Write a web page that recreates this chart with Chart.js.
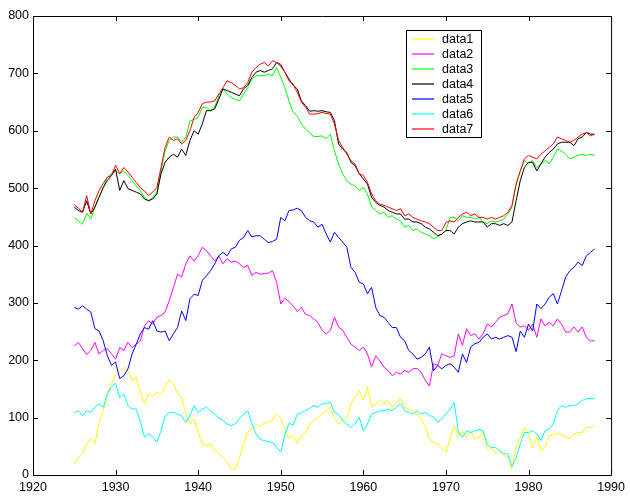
<!DOCTYPE html>
<html>
<head>
<meta charset="utf-8">
<title>data1 - data7</title>
<script src="https://cdn.jsdelivr.net/npm/chart.js@4/dist/chart.umd.min.js"></script>
<style>
  html, body { margin: 0; padding: 0; background: #fff; }
  #chart { display: block; }
</style>
</head>
<body>
<canvas id="chart" width="630" height="496"></canvas>
<script>
// half-year samples, 1925 .. 1988
const years = [];
for (let i = 0; i <= 126; i++) years.push(1925 + i / 2);

const xTicks = [1920, 1930, 1940, 1950, 1960, 1970, 1980, 1990];
const yTicks = [0, 100, 200, 300, 400, 500, 600, 700, 800];

const seriesNames = ["data1", "data2", "data3", "data4", "data5", "data6", "data7"];
const seriesColors = ["#ffff00", "#ff00ff", "#00ff00", "#000000", "#0000ff", "#00ffff", "#ff0000"];

const data1 = [
  19, 31, 37, 54, 63, 55, 92, 112, 141, 159,
  176, 179, 188, 182, 165, 171, 144, 124, 141, 138,
  144, 141, 153, 167, 159, 141, 135, 106, 89, 98,
  75, 54, 51, 54, 43, 37, 31, 22, 10, 10,
  30, 55, 75, 80, 88, 86, 90, 92, 95, 106,
  98, 80, 64, 70, 55, 68, 72, 90, 95, 101,
  106, 112, 118, 98, 89, 95, 101, 124, 136, 147,
  130, 153, 118, 124, 130, 124, 130, 118, 127, 133,
  118, 115, 112, 106, 98, 83, 63, 57, 54, 46,
  40, 63, 86, 68, 77, 66, 77, 63, 66, 74,
  46, 48, 37, 43, 34, 31, 11, 50, 66, 83,
  72, 48, 66, 43, 48, 69, 69, 74, 69, 66,
  63, 72, 74, 74, 83, 83, 86
];
const data2 = [
  225, 231, 220, 210, 217, 231, 211, 217, 220, 211,
  202, 222, 217, 231, 222, 228, 234, 260, 269, 263,
  275, 278, 284, 304, 327, 350, 345, 368, 382, 373,
  382, 397, 391, 382, 373, 382, 368, 377, 371, 373,
  368, 362, 365, 348, 353, 350, 351, 352, 356, 336,
  298, 308, 302, 295, 285, 292, 280, 278, 272, 266,
  252, 246, 252, 275, 258, 252, 240, 228, 223, 217,
  223, 211, 188, 208, 199, 188, 182, 173, 179, 176,
  182, 179, 185, 186, 179, 165, 155, 194, 191, 211,
  208, 205, 208, 246, 226, 255, 243, 246, 237, 246,
  263, 258, 266, 275, 278, 281, 298, 265, 258, 260,
  252, 263, 240, 272, 260, 266, 260, 272, 263, 249,
  249, 258, 249, 258, 240, 234, 234
];
const data3 = [
  449, 443, 437, 456, 446, 467, 484, 501, 519, 525,
  530, 525, 530, 522, 513, 504, 496, 484, 478, 484,
  493, 530, 565, 583, 589, 589, 580, 589, 617, 620,
  623, 641, 641, 635, 641, 661, 673, 664, 658, 655,
  652, 664, 675, 690, 696, 696, 696, 699, 696, 710,
  693, 675, 652, 632, 626, 612, 603, 596, 590, 590,
  591, 586, 594, 565, 542, 525, 513, 507, 504, 496,
  501, 490, 467, 461, 455, 458, 449, 452, 446, 443,
  432, 435, 426, 429, 423, 420, 417, 412, 415, 420,
  426, 449, 449, 443, 452, 449, 449, 446, 449, 441,
  438, 443, 441, 443, 446, 455, 467, 507, 530, 548,
  542, 548, 536, 542, 548, 542, 554, 568, 565, 559,
  551, 554, 557, 559, 557, 559, 557
];
const data4 = [
  467, 461, 458, 478, 455, 467, 484, 501, 513, 522,
  533, 496, 513, 499, 496, 493, 490, 481, 478, 481,
  490, 525, 545, 554, 559, 554, 568, 557, 583, 600,
  594, 612, 635, 635, 638, 655, 673, 670, 667, 664,
  661, 673, 679, 693, 702, 705, 702, 705, 708, 719,
  713, 702, 690, 679, 673, 652, 644, 634, 635, 634,
  635, 633, 632, 618, 577, 568, 562, 545, 539, 525,
  516, 507, 484, 475, 470, 467, 461, 458, 455, 455,
  446, 446, 441, 441, 438, 432, 429, 423, 417, 420,
  426, 426, 420, 432, 438, 441, 443, 441, 441, 441,
  432, 438, 438, 435, 438, 435, 441, 478, 513, 536,
  545, 545, 530, 542, 554, 562, 568, 577, 580, 580,
  580, 574, 586, 589, 597, 594, 594
];
const data5 = [
  292, 289, 295, 289, 284, 255, 251, 234, 208, 191,
  197, 168, 173, 185, 211, 228, 246, 257, 254, 269,
  251, 249, 251, 234, 246, 257, 286, 269, 307, 315,
  313, 339, 347, 356, 368, 382, 388, 382, 394, 397,
  409, 414, 426, 415, 417, 417, 411, 405, 407, 411,
  449, 443, 461, 462, 465, 461, 449, 443, 441, 432,
  437, 420, 406, 423, 414, 406, 397, 362, 353, 336,
  333, 316, 327, 292, 278, 275, 266, 257, 257, 240,
  234, 217, 211, 202, 205, 211, 223, 182, 191, 185,
  191, 194, 188, 179, 211, 196, 223, 229, 231, 240,
  246, 237, 240, 237, 240, 243, 240, 215, 251, 240,
  263, 251, 298, 290, 298, 310, 316, 298, 321, 345,
  356, 362, 371, 365, 382, 388, 394
];
const data6 = [
  109, 112, 103, 112, 109, 118, 124, 118, 141, 153,
  160, 135, 141, 121, 115, 115, 92, 66, 72, 66,
  57, 77, 103, 109, 109, 106, 103, 92, 103, 121,
  109, 115, 118, 112, 106, 100, 95, 89, 86, 89,
  98, 106, 112, 90, 72, 62, 60, 58, 57, 48,
  40, 70, 90, 87, 106, 109, 112, 116, 121, 118,
  124, 124, 127, 109, 106, 95, 89, 83, 89, 101,
  77, 89, 106, 109, 112, 112, 115, 112, 118, 124,
  112, 109, 106, 112, 106, 109, 104, 101, 92, 98,
  106, 115, 127, 75, 66, 77, 74, 77, 80, 77,
  54, 48, 48, 43, 37, 37, 15, 30, 54, 74,
  74, 77, 72, 60, 77, 80, 89, 112, 121, 118,
  121, 121, 124, 130, 133, 133, 133
];
const data7 = [
  471, 465, 458, 487, 455, 478, 496, 508, 519, 522,
  540, 525, 536, 528, 519, 510, 501, 495, 487, 493,
  501, 536, 571, 589, 583, 586, 577, 583, 600, 623,
  632, 647, 650, 650, 652, 664, 675, 687, 684, 679,
  673, 675, 684, 702, 710, 716, 719, 713, 722, 719,
  716, 702, 687, 681, 667, 650, 641, 629, 629, 630,
  632, 630, 629, 612, 583, 571, 559, 548, 542, 525,
  522, 510, 490, 478, 472, 470, 467, 464, 461, 464,
  452, 455, 449, 446, 443, 441, 438, 432, 426, 426,
  440, 443, 441, 449, 455, 458, 452, 455, 449, 449,
  446, 449, 446, 449, 452, 458, 470, 507, 530, 551,
  557, 554, 551, 559, 565, 571, 577, 589, 586, 583,
  580, 583, 589, 594, 597, 591, 594
];

const allSeries = [data1, data2, data3, data4, data5, data6, data7];
const FONT = "Liberation Sans, Arial, Helvetica, sans-serif";

// box round the plot with inward ticks on all four sides, plus the legend
const framePlugin = {
  id: "frame",
  afterDraw(chart) {
    const { ctx, chartArea: a, scales: { x, y } } = chart;
    const tick = 5;
    ctx.save();
    ctx.strokeStyle = "#000";
    ctx.lineWidth = 1;
    ctx.beginPath();
    ctx.rect(a.left + 0.5, a.top + 0.5, a.right - a.left, a.bottom - a.top);
    xTicks.forEach((v) => {
      const px = Math.round(x.getPixelForValue(v)) + 0.5;
      ctx.moveTo(px, a.bottom); ctx.lineTo(px, a.bottom - tick);
      ctx.moveTo(px, a.top); ctx.lineTo(px, a.top + tick);
    });
    yTicks.forEach((v) => {
      const py = Math.round(y.getPixelForValue(v)) + 0.5;
      ctx.moveTo(a.left, py); ctx.lineTo(a.left + tick, py);
      ctx.moveTo(a.right, py); ctx.lineTo(a.right - tick, py);
    });
    ctx.stroke();

    // legend
    const lx = 406, ly = 30, lw = 75, lh = 107, row = 15;
    ctx.fillStyle = "#fff";
    ctx.fillRect(lx, ly, lw, lh);
    ctx.strokeStyle = "#000";
    ctx.strokeRect(lx + 0.5, ly + 0.5, lw, lh);
    ctx.font = "12.5px " + FONT;
    ctx.textBaseline = "middle";
    seriesNames.forEach((name, i) => {
      const cy = ly + 9 + i * row;
      ctx.beginPath();
      ctx.strokeStyle = seriesColors[i];
      ctx.lineWidth = 1.2;
      ctx.moveTo(lx + 6, cy);
      ctx.lineTo(lx + 28, cy);
      ctx.stroke();
      ctx.fillStyle = "#000";
      ctx.fillText(name, lx + 36, cy + 1);
    });
    ctx.restore();
  }
};

const datasets = seriesNames.map((name, i) => ({
  label: name,
  data: allSeries[i].map((v, j) => ({ x: years[j], y: v })),
  borderColor: seriesColors[i],
  borderWidth: 1,
  pointRadius: 0,
  tension: 0,
  fill: false,
  order: 7 - i
}));

new Chart(document.getElementById("chart"), {
  type: "line",
  data: { datasets },
  options: {
    responsive: false,
    animation: false,
    devicePixelRatio: 1,
    layout: { padding: { top: 16, right: 13, left: 0, bottom: 0 } },
    plugins: { legend: { display: false }, tooltip: { enabled: false } },
    scales: {
      x: {
        type: "linear",
        min: 1920,
        max: 1990,
        afterBuildTicks: (s) => { s.ticks = xTicks.map((v) => ({ value: v })); },
        afterFit: (s) => { s.height = 21; },
        grid: { display: false, drawTicks: false },
        border: { display: false },
        ticks: {
          color: "#000",
          font: { family: FONT, size: 12.5 },
          padding: 5,
          maxRotation: 0,
          autoSkip: false,
          callback: (v) => String(v)
        }
      },
      y: {
        min: 0,
        max: 800,
        afterBuildTicks: (s) => { s.ticks = yTicks.map((v) => ({ value: v })); },
        afterFit: (s) => { s.width = 33; },
        grid: { display: false, drawTicks: false },
        border: { display: false },
        ticks: {
          color: "#000",
          font: { family: FONT, size: 12.5 },
          padding: 4,
          callback: (v) => String(v)
        }
      }
    }
  },
  plugins: [framePlugin]
});
</script>
</body>
</html>
